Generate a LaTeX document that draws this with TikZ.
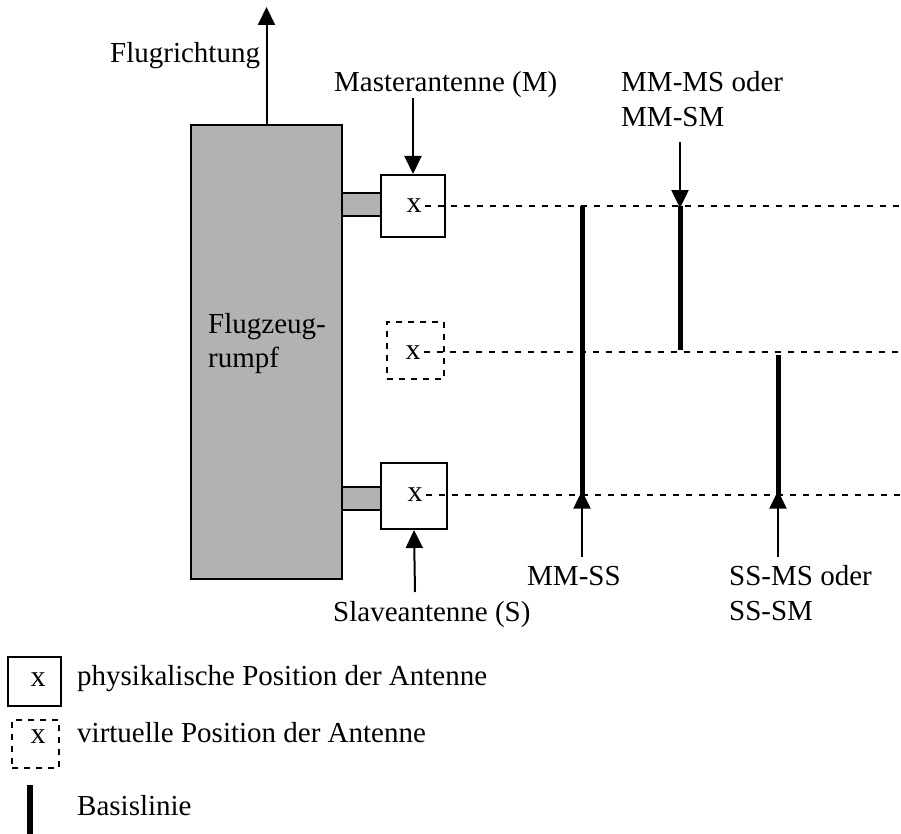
\documentclass[tikz,border=0pt]{standalone}
\usepackage{fontspec}
\setmainfont{Liberation Serif}
\usetikzlibrary{arrows.meta}
\begin{document}
\begin{tikzpicture}[x=1pt,y=-1pt,
 txt/.style={inner sep=0pt,anchor=base west,font=\fontsize{29}{34}\selectfont},
 xg/.style={inner sep=0pt,anchor=base,font=\fontsize{30}{34}\selectfont},
 antbox/.style={draw,line width=2pt,fill=white,inner sep=0pt},
 virtbox/.style={draw,line width=1.6pt,dash pattern=on 6pt off 6pt,inner sep=0pt},
 guide/.style={line width=1.8pt,dash pattern=on 6.5pt off 6.5pt},
 baseln/.style={line width=5pt},
 arr/.style={line width=2pt,-{Triangle[length=18pt,width=17pt]}},
 grayblk/.style={fill=black!30,draw,line width=2pt,inner sep=0pt}]
\useasboundingbox (0,0) rectangle (901,834);
% connectors
\node[grayblk,minimum width=39pt,minimum height=23pt] (cm) at (361.5,204.5) {};
\node[grayblk,minimum width=39pt,minimum height=23pt] (cs) at (361.5,498.5) {};
% fuselage
\node[grayblk,minimum width=151pt,minimum height=454pt] (rumpf) at (266.5,352) {};
\node[txt] (rt1) at (208,333) {Flugzeug-};
\node[txt] (rt2) at (208,367) {rumpf};
% antenna boxes
\node[antbox,minimum width=64pt,minimum height=62pt] (mbox) at (413,206) {};
\node[virtbox,minimum width=57pt,minimum height=57pt] (vbox) at (415.5,350.5) {};
\node[antbox,minimum width=66pt,minimum height=66pt] (sbox) at (414,496) {};
\node[xg] (mx) at (414,213) {x};
\node[xg] (vx) at (413,359) {x};
\node[xg] (sx) at (415,501.5) {x};
% guide lines
\coordinate (eR) at (901,0);
\draw[guide] ([xshift=3pt]mx.east) -- (mx.east -| eR);
\draw[guide] ([xshift=3pt]vx.east) -- (vx.east -| eR);
\draw[guide] ([xshift=3pt]sx.east) -- (sx.east -| eR);
% baselines
\coordinate (b1) at (582,0);
\coordinate (b2) at (680,0);
\coordinate (b3) at (778,0);
\draw[baseln] (mx.east -| b1) -- (sx.east -| b1);
\draw[baseln] (mx.east -| b2) -- ([yshift=2pt]vx.east -| b2);
\draw[baseln] ([yshift=-3pt]vx.east -| b3) -- (sx.east -| b3);
% arrows
\coordinate (ftip) at (266.5,7);
\draw[arr] (rumpf.north) -- (ftip);
\node[txt] (flug) at (110,63) {Flugrichtung};
\node[txt] (mlab) at (334,92) {Masterantenne (M)};
\coordinate (ma) at (413,98);
\draw[arr] (ma) -- (mbox.north);
\node[txt] (mm1) at (621,92) {MM-MS oder};
\node[txt] (mm2) at (621,127) {MM-SM};
\coordinate (a2) at (680,142);
\draw[arr] (a2) -- ([yshift=-2pt]mx.east -| b2);
\coordinate (a1) at (582,557);
\draw[arr] (a1) -- ([yshift=4pt]sx.east -| b1);
\coordinate (a3) at (778,557);
\draw[arr] (a3) -- ([yshift=4pt]sx.east -| b3);
\coordinate (sa) at (415,592);
\draw[arr] (sa) -- (sbox.south);
\node[txt] (slab) at (333,621) {Slaveantenne (S)};
\node[txt] (mmss) at (527,585) {MM-SS};
\node[txt] (ss1) at (729,585) {SS-MS oder};
\node[txt] (ss2) at (729,620) {SS-SM};
% legend
\node[antbox,minimum width=53pt,minimum height=49pt] (lg1) at (34.5,681.5) {};
\node[xg] (lx1) at (38,686) {x};
\node[txt] (lt1) at (77,685) {physikalische Position der Antenne};
\node[virtbox,minimum width=47pt,minimum height=48pt] (lg2) at (35.5,744) {};
\node[xg] (lx2) at (38,743) {x};
\node[txt] (lt2) at (77,742) {virtuelle Position der Antenne};
\coordinate (lb1) at (30,785);
\coordinate (lb2) at (30,834);
\draw[line width=6pt] (lb1) -- (lb2);
\node[txt] (lt3) at (77,815) {Basislinie};
\end{tikzpicture}
\end{document}
